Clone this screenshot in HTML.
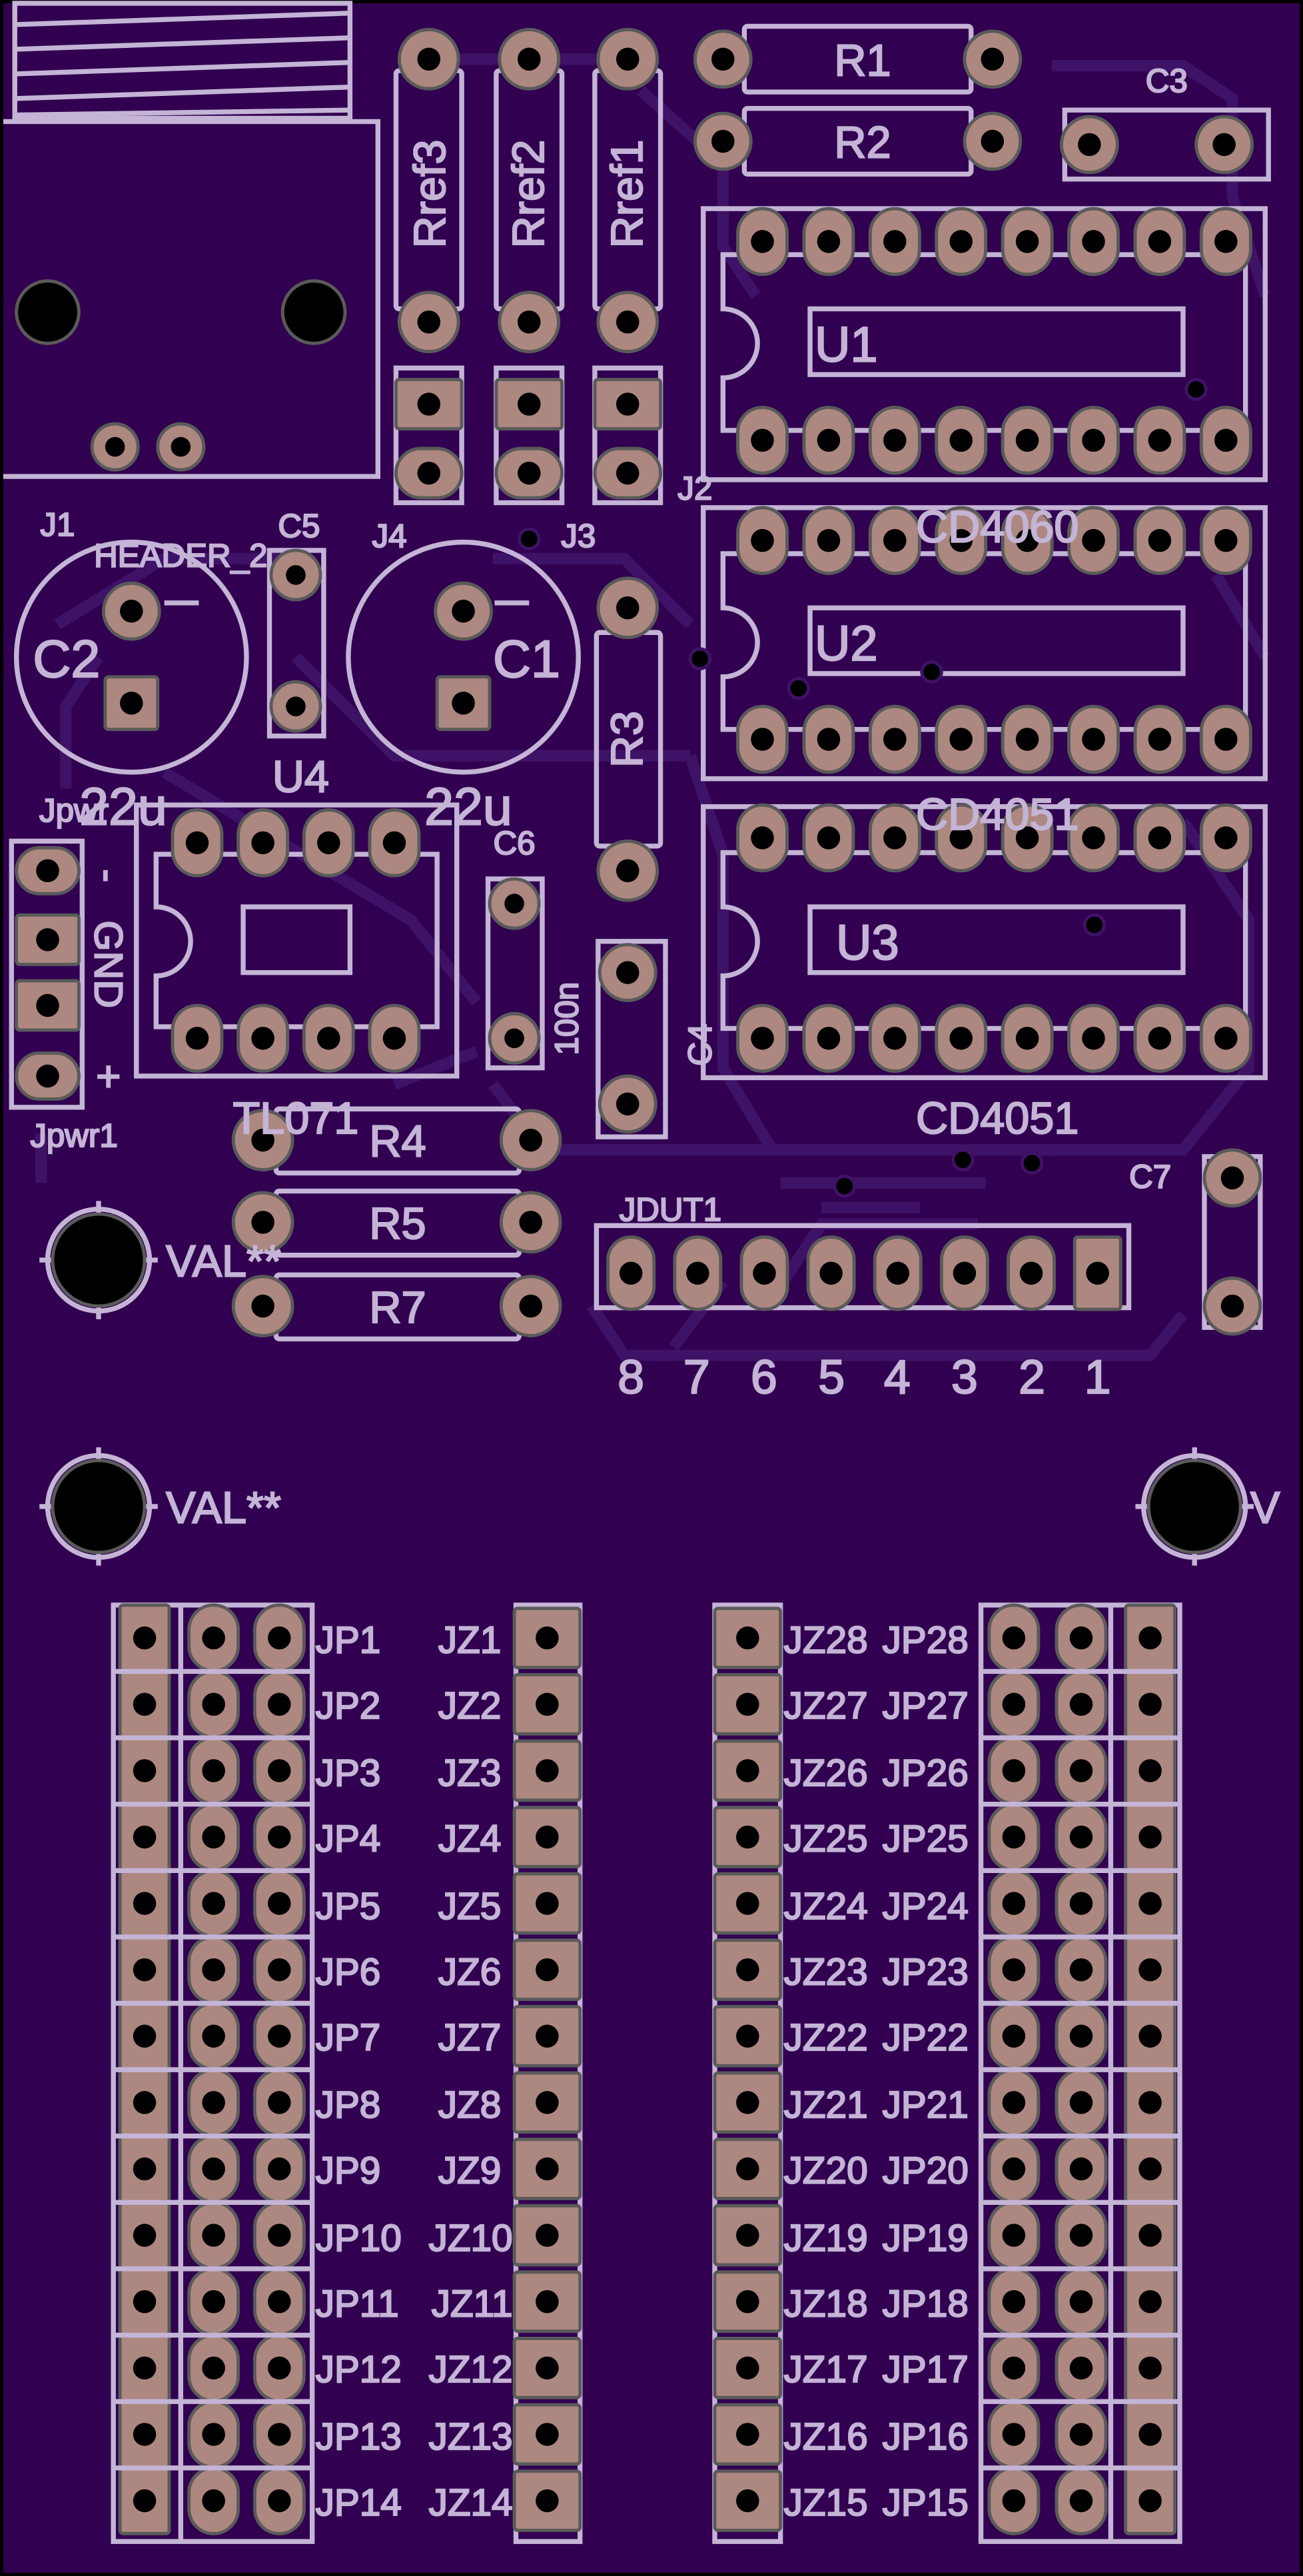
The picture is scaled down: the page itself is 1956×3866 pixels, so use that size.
<!DOCTYPE html>
<html><head><meta charset="utf-8"><style>
html,body{margin:0;padding:0;background:#000}
svg{display:block}
text{font-family:"Liberation Sans Narrow","Liberation Sans",sans-serif;fill:#c4b4d6;stroke:#c4b4d6;stroke-width:0.9}
</style></head><body>
<svg id="s" width="1956" height="3866" viewBox="0 0 793 1568" preserveAspectRatio="none" xmlns="http://www.w3.org/2000/svg">
<rect x="0" y="0" width="793" height="1568" fill="#000"/>
<rect x="2" y="2" width="789" height="1564" fill="#310050"/>
<g id="tr" fill="none" stroke="#3e1266" stroke-width="7">
<path d="M278 36 H385 M60 400 L40 430 V480 M35 380 L100 340 H180 M180 400 L240 460 H420 M300 340 H380 L420 380 M390 55 L440 100 V150 L460 180 M420 460 L440 520 V650 L470 700 H600 M300 660 L330 700 H720 L760 650 V560 L720 500 M770 400 L740 350 M770 180 L750 120 V60 L720 40 H640 M410 820 L440 780 M470 790 L500 745 H595 M475 720 H600 M500 735 H560 M25 690 V720 M720 800 L700 825 H380 L360 795 M100 470 L250 560 L290 610 M240 660 L290 640"/>
</g>
<g fill="none" stroke="#c4b4d6" stroke-width="3">
<rect x="9" y="2" width="204" height="70"/>
<path d="M9 15 L213 8 M9 30 L213 23 M9 45 L213 38 M9 60 L213 53 M9 70 L213 67"/>
<path d="M2 74 H230 V290 H2"/>
<rect x="241" y="43" width="40" height="145" rx="2"/>
<rect x="302" y="43" width="40" height="145" rx="2"/>
<rect x="362" y="43" width="40" height="145" rx="2"/>
<rect x="241" y="224" width="40" height="82"/>
<rect x="302" y="224" width="40" height="82"/>
<rect x="362" y="224" width="40" height="82"/>
<rect x="453" y="16" width="138" height="40" rx="2"/>
<rect x="453" y="66" width="138" height="40" rx="2"/>
<rect x="648" y="67" width="124" height="42"/>
<rect x="428" y="127" width="342" height="165"/>
<path d="M440 155 H758 V262 H440 V230 A17 17 0 0 0 440 188 Z"/>
<rect x="493" y="188" width="227" height="40"/>
<rect x="428" y="309" width="342" height="165"/>
<path d="M440 337 H758 V444 H440 V412 A17 17 0 0 0 440 370 Z"/>
<rect x="493" y="370" width="227" height="40"/>
<rect x="428" y="491" width="342" height="165"/>
<path d="M440 519 H758 V626 H440 V594 A17 17 0 0 0 440 552 Z"/>
<rect x="493" y="552" width="227" height="40"/>
<rect x="83" y="490" width="195" height="165"/>
<path d="M95 520 H266 V625 H95 V594 A17 17 0 0 0 95 552 Z"/>
<rect x="148" y="552" width="65" height="40"/>
<circle cx="80" cy="400" r="70"/>
<circle cx="282" cy="400" r="70"/>
<rect x="164" y="335" width="33" height="113"/>
<rect x="297" y="535" width="33" height="115"/>
<rect x="363" y="385" width="39" height="130" rx="2"/>
<rect x="364" y="573" width="41" height="119"/>
<rect x="733" y="704" width="34" height="104"/>
<rect x="168" y="675" width="148" height="39" rx="2"/>
<rect x="168" y="725" width="148" height="39" rx="2"/>
<rect x="168" y="776" width="148" height="39" rx="2"/>
<rect x="7" y="512" width="43" height="162"/>
<rect x="363" y="746" width="324" height="50"/>
<circle cx="60" cy="767" r="31"/><path d="M60 731 V803 M24 767 H96"/>
<circle cx="60" cy="917" r="31"/><path d="M60 881 V953 M24 917 H96"/>
<circle cx="727" cy="917" r="31"/><path d="M727 881 V953 M691 917 H763"/>
<rect x="69" y="977" width="121" height="570"/>
<rect x="314" y="977" width="39" height="570"/>
<rect x="435" y="977" width="40" height="570"/>
<rect x="597" y="977" width="121" height="570"/>
</g>
<g id="gen"></g>
<g id="holes" fill="#000" stroke="#5a5a5a" stroke-width="2">
<circle cx="29" cy="190" r="19"/><circle cx="191" cy="190" r="19"/>
<circle cx="60" cy="767" r="28"/><circle cx="60" cy="917" r="28"/><circle cx="727" cy="917" r="28"/>
</g>
<g fill="none" stroke="#c4b4d6" stroke-width="3">
<path d="M100 367 H121 M301 367 H322"/>
</g>
<g font-size="27">
<text x="262" y="118" transform="rotate(-90 262 118)" text-anchor="middle" dominant-baseline="central">Rref3</text>
<text x="322" y="118" transform="rotate(-90 322 118)" text-anchor="middle" dominant-baseline="central">Rref2</text>
<text x="382" y="118" transform="rotate(-90 382 118)" text-anchor="middle" dominant-baseline="central">Rref1</text>
<text x="525" y="46" text-anchor="middle">R1</text>
<text x="525" y="96" text-anchor="middle">R2</text>
<text x="710" y="56" text-anchor="middle" font-size="20">C3</text>
<text x="515" y="220" text-anchor="middle" font-size="30">U1</text>
<text x="515" y="402" text-anchor="middle" font-size="30">U2</text>
<text x="528" y="584" text-anchor="middle" font-size="30">U3</text>
<text x="607" y="330" text-anchor="middle">CD4060</text>
<text x="607" y="505" text-anchor="middle">CD4051</text>
<text x="607" y="690" text-anchor="middle">CD4051</text>
<text x="20" y="412" font-size="32">C2</text>
<text x="300" y="412" font-size="32">C1</text>
<text x="75" y="502" text-anchor="middle" font-size="32">22u</text>
<text x="285" y="502" text-anchor="middle" font-size="32">22u</text>
<text x="183" y="482" text-anchor="middle">U4</text>
<text x="180" y="690" text-anchor="middle">TL071</text>
<text x="382" y="450" transform="rotate(-90 382 450)" text-anchor="middle" dominant-baseline="central">R3</text>
<text x="242" y="704" text-anchor="middle">R4</text>
<text x="242" y="754" text-anchor="middle">R5</text>
<text x="242" y="805" text-anchor="middle">R7</text>
<text x="101" y="777" font-size="27">VAL**</text>
<text x="101" y="927" font-size="27">VAL**</text>
<text x="761" y="927" font-size="27">V</text>
<text x="384" y="848" text-anchor="middle" font-size="29">8</text>
<text x="424" y="848" text-anchor="middle" font-size="29">7</text>
<text x="465" y="848" text-anchor="middle" font-size="29">6</text>
<text x="506" y="848" text-anchor="middle" font-size="29">5</text>
<text x="546" y="848" text-anchor="middle" font-size="29">4</text>
<text x="587" y="848" text-anchor="middle" font-size="29">3</text>
<text x="628" y="848" text-anchor="middle" font-size="29">2</text>
<text x="668" y="848" text-anchor="middle" font-size="29">1</text>
</g>
<g font-size="20">
<text x="35" y="326" text-anchor="middle">J1</text>
<text x="110" y="345" text-anchor="middle">HEADER_2</text>
<text x="182" y="327" text-anchor="middle">C5</text>
<text x="237" y="333" text-anchor="middle">J4</text>
<text x="352" y="333" text-anchor="middle">J3</text>
<text x="423" y="304" text-anchor="middle">J2</text>
<text x="45" y="500" text-anchor="middle">Jpwr</text>
<text x="45" y="698" text-anchor="middle">Jpwr1</text>
<text x="313" y="520" text-anchor="middle">C6</text>
<text x="345" y="620" transform="rotate(-90 345 620)" text-anchor="middle" dominant-baseline="central">100n</text>
<text x="426" y="636" transform="rotate(-90 426 636)" text-anchor="middle" dominant-baseline="central">C4</text>
<text x="700" y="723" text-anchor="middle">C7</text>
<text x="408" y="743" text-anchor="middle">JDUT1</text>
<text x="66" y="533" transform="rotate(90 66 533)" text-anchor="middle" dominant-baseline="central" font-size="24">-</text>
<text x="66" y="587" transform="rotate(90 66 587)" text-anchor="middle" dominant-baseline="central" font-size="24">GND</text>
<text x="66" y="655" text-anchor="middle" dominant-baseline="central" font-size="26">+</text>
</g>
<g font-size="23">
<text x="192" y="1006">JP1</text><text x="305" y="1006" text-anchor="end">JZ1</text>
<text x="192" y="1046">JP2</text><text x="305" y="1046" text-anchor="end">JZ2</text>
<text x="192" y="1087">JP3</text><text x="305" y="1087" text-anchor="end">JZ3</text>
<text x="192" y="1127">JP4</text><text x="305" y="1127" text-anchor="end">JZ4</text>
<text x="192" y="1168">JP5</text><text x="305" y="1168" text-anchor="end">JZ5</text>
<text x="192" y="1208">JP6</text><text x="305" y="1208" text-anchor="end">JZ6</text>
<text x="192" y="1248">JP7</text><text x="305" y="1248" text-anchor="end">JZ7</text>
<text x="192" y="1289">JP8</text><text x="305" y="1289" text-anchor="end">JZ8</text>
<text x="192" y="1329">JP9</text><text x="305" y="1329" text-anchor="end">JZ9</text>
<text x="192" y="1370">JP10</text><text x="312" y="1370" text-anchor="end">JZ10</text>
<text x="192" y="1410">JP11</text><text x="312" y="1410" text-anchor="end">JZ11</text>
<text x="192" y="1450">JP12</text><text x="312" y="1450" text-anchor="end">JZ12</text>
<text x="192" y="1491">JP13</text><text x="312" y="1491" text-anchor="end">JZ13</text>
<text x="192" y="1531">JP14</text><text x="312" y="1531" text-anchor="end">JZ14</text>
<text x="477" y="1006">JZ28</text><text x="537" y="1006">JP28</text>
<text x="477" y="1046">JZ27</text><text x="537" y="1046">JP27</text>
<text x="477" y="1087">JZ26</text><text x="537" y="1087">JP26</text>
<text x="477" y="1127">JZ25</text><text x="537" y="1127">JP25</text>
<text x="477" y="1168">JZ24</text><text x="537" y="1168">JP24</text>
<text x="477" y="1208">JZ23</text><text x="537" y="1208">JP23</text>
<text x="477" y="1248">JZ22</text><text x="537" y="1248">JP22</text>
<text x="477" y="1289">JZ21</text><text x="537" y="1289">JP21</text>
<text x="477" y="1329">JZ20</text><text x="537" y="1329">JP20</text>
<text x="477" y="1370">JZ19</text><text x="537" y="1370">JP19</text>
<text x="477" y="1410">JZ18</text><text x="537" y="1410">JP18</text>
<text x="477" y="1450">JZ17</text><text x="537" y="1450">JP17</text>
<text x="477" y="1491">JZ16</text><text x="537" y="1491">JP16</text>
<text x="477" y="1531">JZ15</text><text x="537" y="1531">JP15</text>
</g>
</svg>
<script>
var g=document.getElementById('gen'),NS='http://www.w3.org/2000/svg',P='#ad8880',O='#5a5a5a';
function el(t,a){var e=document.createElementNS(NS,t);for(var k in a)e.setAttribute(k,a[k]);g.appendChild(e);return e;}
function hole(x,y,r){el('circle',{cx:x,cy:y,r:r,fill:'#000'});}
function rp(x,y,r,h){el('circle',{cx:x,cy:y,r:r,fill:P,stroke:O,'stroke-width':2});hole(x,y,h||7);}
function sq(x,y,w,hh,h){el('rect',{x:x-w/2,y:y-hh/2,width:w,height:hh,rx:2,fill:P,stroke:O,'stroke-width':2});hole(x,y,h||7);}
function ov(x,y,w,hh,h){el('rect',{x:x-w/2,y:y-hh/2,width:w,height:hh,rx:Math.min(w,hh)/2,fill:P,stroke:O,'stroke-width':2});hole(x,y,h||7);}
rp(70,272,14,6);rp(110,272,14,6);
[261,322,382].forEach(function(x){rp(x,36,18,7);rp(x,196,18,7);sq(x,246,40,30,7);ov(x,288,40,30,7);});
rp(440,36,17,7);rp(604,36,17,7);rp(440,86,17,7);rp(604,86,17,7);
rp(663,88,17,7);rp(745,88,17,7);
[[147,268],[329,450],[510,632]].forEach(function(r){for(var i=0;i<8;i++){var x=464+i*40.3;ov(x,r[0],30,40,7);ov(x,r[1],30,40,7);}});
for(var i=0;i<4;i++){var x=120+i*40;ov(x,513,30,40,7);ov(x,632,30,40,7);}
rp(80,372,17,7);sq(80,428,32,32,7);rp(282,372,17,7);sq(282,428,32,32,7);
rp(180,350,15,6);rp(180,430,15,6);
rp(313,550,15,6);rp(313,632,15,6);
rp(382,370,18,7);rp(382,530,18,7);
rp(382,592,17,7);rp(382,672,17,7);
rp(750,717,17,7);rp(750,795,17,7);
rp(160,694,18,7);rp(323,694,18,7);rp(160,744,18,7);rp(323,744,18,7);rp(160,795,18,7);rp(323,795,18,7);
ov(29,530,38,28,7);sq(29,572,38,30,7);sq(29,612,38,30,7);ov(29,655,38,28,7);
for(var i=0;i<7;i++)ov(384+i*40.6,775,28,44,7);sq(668,775,28,44,7);
for(var i=0;i<14;i++){var y=997+i*40.4;
 sq(88,y,30,40,7);ov(130,y,30,40,7);ov(170,y,30,40,7);sq(333,y,40,36,7);
 sq(455,y,40,36,7);ov(617,y,30,40,7);ov(658,y,30,40,7);sq(700,y,30,40,7);
 if(i>0){el('path',{d:'M69 '+(y-20)+' H190 M597 '+(y-20)+' H718',stroke:'#c4b4d6','stroke-width':3,fill:'none'});}
}
el('path',{d:'M110 977 V1547 M676 977 V1547',stroke:'#c4b4d6','stroke-width':3,fill:'none'});
[[322,328],[426,401],[486,419],[567,409],[728,237],[666,563],[514,722],[586,706],[628,708]].forEach(function(v){el('circle',{cx:v[0],cy:v[1],r:6,fill:'#000',stroke:'#3e1266','stroke-width':2});});
</script>
</body></html>
